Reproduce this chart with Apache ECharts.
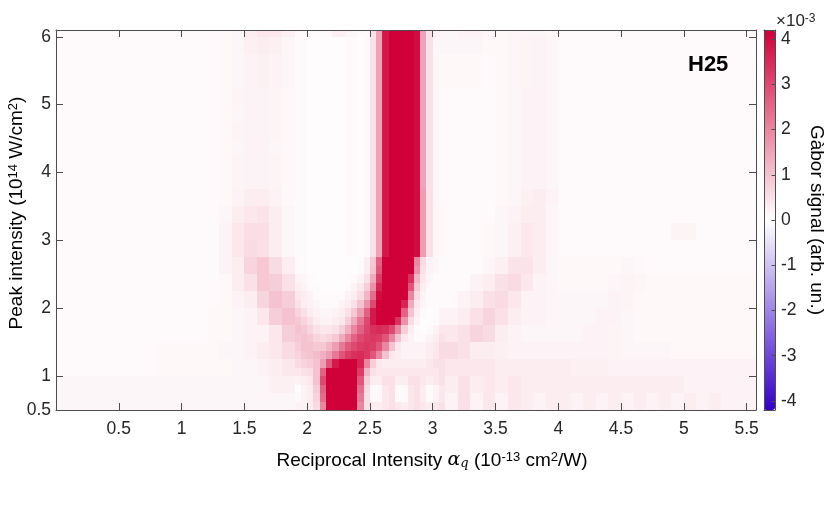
<!DOCTYPE html>
<html><head><meta charset="utf-8">
<script src="https://cdn.jsdelivr.net/npm/echarts@6/dist/echarts.min.js"></script>
<style>html,body{margin:0;padding:0;background:#fff}#c{width:834px;height:506px}</style>
</head><body><div id="c"></div>
<script>
// ---------- coarse map: bins 0.1 (x) by 0.25 (y) ----------
// Reciprocal intensity bin centres (10^-13 cm^2/W)
const xBins = [0.05,0.15,0.25,0.35,0.45,0.55,0.65,0.75,0.85,0.95,1.05,1.15,1.25,1.35,1.45,1.55,1.65,1.75,1.85,1.95,2.05,2.15,2.25,2.35,2.45,2.55,2.65,2.75,2.85,2.95,3.05,3.15,3.25,3.35,3.45,3.55,3.65,3.75,3.85,3.95,4.05,4.15,4.25,4.35,4.45,4.55,4.65,4.75,4.85,4.95,5.05,5.15,5.25,5.35,5.45,5.55];
// Peak intensity bin centres (10^14 W/cm^2)
const yBins = [0.625,0.875,1.125,1.375,1.625,1.875,2.125,2.375,2.625,2.875,3.125,3.375,3.625,3.875,4.125,4.375,4.625,4.875,5.125,5.375,5.625,5.875,6.125];
// Gabor signal (x10^-3), one row per yBin, one value per xBin
const signal = [
[0.15,0.15,0.15,0.15,0.15,0.15,0.15,0.15,0.15,0.15, 0.15,0.15,0.15,0.15,0.15,0.15,0.15,0.15,0.15,0.1, 0.9,3.6,5,5,1.4,0.2,0.5,0.1,0.5,0.2, 0.5,0.2,0.5,0.2,0.4,0.2,0.4,0.3,0.2,0.3, 0.3,0.2,0.3,0.2,0.3,0.2,0.3,0.2,0.3,0.2, 0.3,0.2,0.3,0.2,0.2,0.2],
[0.15,0.15,0.15,0.15,0.15,0.15,0.15,0.15,0.15,0.15, 0.15,0.15,0.15,0.15,0.15,0.15,0.15,0.25,0.25,0.25, 1.2,4,5,5,1.6,0.4,0.5,0.3,0.5,0.3, 0.5,0.3,0.5,0.3,0.4,0.3,0.4,0.3,0.3,0.3, 0.3,0.3,0.3,0.3,0.3,0.3,0.3,0.3,0.3,0.3, 0.2,0.2,0.2,0.2,0.2,0.2],
[0.1,0.1,0.1,0.1,0.1,0.1,0.1,0.1,0.12,0.12, 0.12,0.12,0.12,0.12,0.15,0.15,0.2,0.3,0.4,0.6, 1.4,3.8,4.6,4.2,2.2,0.8,0.4,0.4,0.4,0.4, 0.5,0.4,0.4,0.4,0.4,0.3,0.3,0.3,0.3,0.3, 0.3,0.25,0.25,0.25,0.2,0.2,0.2,0.2,0.2,0.2, 0.2,0.2,0.2,0.2,0.2,0.2],
[0.1,0.1,0.1,0.1,0.1,0.1,0.1,0.1,0.12,0.12, 0.12,0.12,0.12,0.15,0.15,0.2,0.3,0.4,0.6,0.9, 1.0,1.4,2.2,2.8,3.0,2.6,1.4,0.5,0.2,0.2, 0.4,0.6,0.5,0.3,0.3,0.25,0.2,0.2,0.2,0.2, 0.2,0.2,0.22,0.2,0.18,0.15,0.15,0.15,0.15,0.12, 0.12,0.12,0.12,0.12,0.12,0.12],
[0.1,0.1,0.1,0.1,0.1,0.1,0.1,0.1,0.1,0.1, 0.1,0.1,0.12,0.12,0.15,0.2,0.2,0.4,0.8,1.0, 0.8,0.5,0.9,1.8,2.6,3.0,2.8,1.2,0.3,0.05, 0.2,0.4,0.5,0.7,0.6,0.3,0.2,0.15,0.15,0.15, 0.15,0.15,0.2,0.22,0.18,0.15,0.12,0.12,0.12,0.12, 0.12,0.12,0.12,0.12,0.12,0.12],
[0.1,0.1,0.1,0.1,0.1,0.1,0.1,0.1,0.1,0.1, 0.1,0.1,0.12,0.12,0.15,0.2,0.4,0.8,1.0,0.8, 0.4,0.2,0.3,0.8,2.0,3.5,4.0,2.5,0.5,0.05, 0.1,0.2,0.3,0.5,0.7,0.5,0.3,0.2,0.22,0.15, 0.15,0.15,0.15,0.2,0.2,0.15,0.12,0.12,0.12,0.12, 0.12,0.12,0.12,0.12,0.12,0.12],
[0.1,0.1,0.1,0.1,0.1,0.1,0.1,0.1,0.1,0.1, 0.1,0.1,0.1,0.12,0.2,0.3,0.7,1.0,0.8,0.4, 0.2,0.1,0.1,0.2,1.0,3.0,4.5,4.0,1.0,0.2, 0.1,0.1,0.2,0.3,0.5,0.6,0.4,0.2,0.2,0.15, 0.15,0.15,0.15,0.15,0.2,0.18,0.12,0.12,0.12,0.12, 0.12,0.12,0.12,0.12,0.12,0.12],
[0.1,0.1,0.1,0.1,0.1,0.1,0.1,0.1,0.1,0.1, 0.1,0.1,0.1,0.12,0.3,0.5,0.9,0.8,0.5,0.2, 0.1,0.05,0.05,0.1,0.5,2.0,5,5,2.0,0.3, 0.1,0.1,0.1,0.2,0.3,0.5,0.6,0.4,0.2,0.15, 0.12,0.12,0.12,0.12,0.15,0.18,0.15,0.12,0.12,0.12, 0.12,0.12,0.12,0.12,0.12,0.12],
[0.1,0.1,0.1,0.1,0.1,0.1,0.1,0.1,0.1,0.1, 0.1,0.1,0.1,0.2,0.3,0.7,0.9,0.6,0.3,0.1, 0.05,0.05,0.05,0.1,0.2,1.2,5,5,3.8,0.7, 0.12,0.1,0.1,0.1,0.15,0.25,0.45,0.45,0.3,0.15, 0.12,0.12,0.12,0.12,0.12,0.15,0.12,0.1,0.1,0.1, 0.1,0.1,0.1,0.1,0.1,0.1],
[0.1,0.1,0.1,0.1,0.1,0.1,0.1,0.1,0.1,0.1, 0.1,0.1,0.1,0.2,0.4,0.6,0.5,0.3,0.15,0.1, 0.05,0.05,0.05,0.1,0.15,1.2,5,5,3.8,0.7, 0.12,0.1,0.1,0.1,0.12,0.15,0.25,0.4,0.3,0.15, 0.1,0.1,0.1,0.1,0.1,0.1,0.1,0.1,0.1,0.1, 0.1,0.1,0.1,0.1,0.1,0.1],
[0.1,0.1,0.1,0.1,0.1,0.1,0.1,0.1,0.1,0.1, 0.1,0.1,0.1,0.2,0.4,0.55,0.55,0.3,0.15,0.1, 0.05,0.05,0.05,0.1,0.15,1.2,5,5,3.8,0.7, 0.12,0.1,0.1,0.1,0.12,0.15,0.25,0.4,0.3,0.15, 0.1,0.1,0.1,0.1,0.1,0.1,0.1,0.1,0.1,0.18, 0.18,0.1,0.1,0.1,0.1,0.1],
[0.1,0.1,0.1,0.1,0.1,0.1,0.1,0.1,0.1,0.1, 0.1,0.1,0.1,0.15,0.3,0.4,0.45,0.3,0.15,0.1, 0.05,0.05,0.05,0.1,0.15,1.2,5,5,3.8,0.7, 0.12,0.1,0.1,0.1,0.1,0.15,0.2,0.3,0.3,0.15, 0.1,0.1,0.1,0.1,0.1,0.1,0.1,0.1,0.1,0.1, 0.1,0.1,0.1,0.1,0.1,0.1],
[0.1,0.1,0.1,0.1,0.1,0.1,0.1,0.1,0.1,0.1, 0.1,0.1,0.1,0.12,0.22,0.3,0.3,0.22,0.12,0.1, 0.05,0.05,0.05,0.1,0.15,1.2,5,5,3.8,0.7, 0.1,0.1,0.1,0.1,0.1,0.12,0.15,0.25,0.3,0.2, 0.1,0.1,0.1,0.1,0.1,0.1,0.1,0.1,0.1,0.1, 0.1,0.1,0.1,0.1,0.1,0.1],
[0.1,0.1,0.1,0.1,0.1,0.1,0.1,0.1,0.1,0.1, 0.1,0.1,0.1,0.12,0.18,0.22,0.22,0.18,0.12,0.1, 0.05,0.05,0.05,0.1,0.15,1.2,5,5,3.8,0.7, 0.1,0.1,0.1,0.1,0.1,0.12,0.15,0.22,0.22,0.15, 0.1,0.1,0.1,0.1,0.1,0.1,0.1,0.1,0.1,0.1, 0.1,0.1,0.1,0.1,0.1,0.1],
[0.1,0.1,0.1,0.1,0.1,0.1,0.1,0.1,0.1,0.1, 0.1,0.1,0.1,0.12,0.18,0.22,0.22,0.18,0.12,0.1, 0.05,0.05,0.05,0.1,0.15,1.2,5,5,3.8,0.7, 0.1,0.1,0.1,0.1,0.1,0.12,0.15,0.22,0.22,0.15, 0.1,0.1,0.1,0.1,0.1,0.1,0.1,0.1,0.1,0.1, 0.1,0.1,0.1,0.1,0.1,0.1],
[0.1,0.1,0.1,0.1,0.1,0.1,0.1,0.1,0.1,0.1, 0.1,0.1,0.1,0.12,0.15,0.22,0.2,0.15,0.12,0.1, 0.05,0.05,0.05,0.1,0.15,1.2,5,5,3.8,0.7, 0.1,0.1,0.1,0.1,0.1,0.12,0.15,0.22,0.22,0.15, 0.1,0.1,0.1,0.1,0.1,0.1,0.1,0.1,0.1,0.1, 0.1,0.1,0.1,0.1,0.1,0.1],
[0.1,0.1,0.1,0.1,0.1,0.1,0.1,0.1,0.1,0.1, 0.1,0.1,0.1,0.12,0.18,0.22,0.22,0.18,0.12,0.1, 0.05,0.05,0.05,0.1,0.15,1.2,5,5,3.8,0.7, 0.1,0.1,0.1,0.1,0.1,0.12,0.15,0.22,0.22,0.15, 0.1,0.1,0.1,0.1,0.1,0.1,0.1,0.1,0.1,0.1, 0.1,0.1,0.1,0.1,0.1,0.1],
[0.1,0.1,0.1,0.1,0.1,0.1,0.1,0.1,0.1,0.1, 0.1,0.1,0.1,0.12,0.15,0.2,0.22,0.18,0.12,0.1, 0.05,0.05,0.05,0.1,0.15,1.2,5,5,3.8,0.7, 0.1,0.1,0.1,0.1,0.1,0.12,0.15,0.22,0.22,0.15, 0.1,0.1,0.1,0.1,0.1,0.1,0.1,0.1,0.1,0.1, 0.1,0.1,0.1,0.1,0.1,0.1],
[0.1,0.1,0.1,0.1,0.1,0.1,0.1,0.1,0.1,0.1, 0.1,0.1,0.1,0.12,0.18,0.22,0.22,0.18,0.12,0.1, 0.05,0.05,0.05,0.1,0.15,1.2,5,5,3.8,0.7, 0.1,0.1,0.1,0.1,0.1,0.12,0.15,0.22,0.22,0.15, 0.1,0.1,0.1,0.1,0.1,0.1,0.1,0.1,0.1,0.1, 0.1,0.1,0.1,0.1,0.1,0.1],
[0.1,0.1,0.1,0.1,0.1,0.1,0.1,0.1,0.1,0.1, 0.1,0.1,0.1,0.12,0.15,0.22,0.25,0.22,0.15,0.1, 0.05,0.05,0.05,0.1,0.15,1.2,5,5,3.8,0.7, 0.12,0.12,0.12,0.12,0.1,0.12,0.15,0.18,0.22,0.15, 0.1,0.1,0.1,0.1,0.1,0.1,0.1,0.1,0.1,0.1, 0.1,0.1,0.1,0.1,0.1,0.1],
[0.1,0.1,0.1,0.1,0.1,0.1,0.1,0.1,0.1,0.1, 0.1,0.1,0.1,0.12,0.15,0.22,0.25,0.22,0.15,0.1, 0.05,0.05,0.05,0.1,0.15,1.2,5,5,3.8,0.7, 0.12,0.12,0.12,0.12,0.1,0.12,0.15,0.18,0.22,0.15, 0.1,0.1,0.1,0.1,0.1,0.1,0.1,0.1,0.1,0.1, 0.1,0.1,0.1,0.1,0.1,0.1],
[0.1,0.1,0.1,0.1,0.1,0.1,0.1,0.1,0.1,0.1, 0.1,0.1,0.1,0.12,0.15,0.25,0.3,0.25,0.15,0.1, 0.05,0.05,0.05,0.1,0.15,1.2,5,5,3.8,0.7, 0.15,0.15,0.15,0.15,0.12,0.12,0.15,0.18,0.22,0.15, 0.1,0.1,0.1,0.1,0.1,0.1,0.1,0.1,0.1,0.1, 0.1,0.1,0.1,0.1,0.1,0.1],
[0.1,0.1,0.1,0.1,0.1,0.1,0.1,0.1,0.1,0.1, 0.1,0.1,0.1,0.12,0.15,0.3,0.4,0.4,0.25,0.1, 0.1,0.1,0.25,0.15,0.1,1.2,5,5,3.8,0.7, 0.15,0.15,0.2,0.2,0.15,0.12,0.15,0.15,0.15,0.12, 0.1,0.1,0.1,0.1,0.1,0.1,0.1,0.1,0.1,0.1, 0.1,0.1,0.1,0.1,0.1,0.1]
];

// ---------- fine map of the lower "V": bins 0.05 (x) by 0.125 (y) ----------
const xFine = [1.925,1.975,2.025,2.075,2.125,2.175,2.225,2.275,2.325,2.375,2.425,2.475,2.525,2.575,2.625,2.675,2.725,2.775,2.825,2.875,2.925,2.975,3.025,3.075];
const yFine = [0.5625,0.6875,0.8125,0.9375,1.0625,1.1875,1.3125,1.4375,1.5625,1.6875,1.8125,1.9375,2.0625,2.1875,2.3125,2.4375,2.5625,2.6875];
const signalFine = [
[0.2,0.2,0.3,0.6,2.0,4.5,5,5,5,5,2.0,0.5,0.3,0.3,0.4,0.5,0.4,0.3,0.4,0.5,0.4,0.3,0.4,0.5],
[0.1,0.2,0.3,0.7,2.4,4.8,5,5,5,5,2.2,0.5,0.1,0.1,0.4,0.5,0.1,0.1,0.4,0.5,0.3,0.1,0.2,0.4],
[0.05,0.2,0.3,0.8,2.6,5,5,5,5,5,2.4,0.6,0.1,0.1,0.4,0.5,0.1,0.1,0.4,0.5,0.3,0.1,0.2,0.4],
[0.2,0.3,0.4,1.0,3.0,5,5,5,5,5,2.8,0.8,0.3,0.3,0.5,0.5,0.3,0.3,0.5,0.5,0.4,0.3,0.4,0.5],
[0.4,0.5,0.6,1.0,2.6,4.5,5,5,5,5,3.2,1.2,0.5,0.4,0.4,0.4,0.4,0.4,0.4,0.4,0.4,0.4,0.4,0.5],
[0.6,0.7,0.8,1.0,1.6,2.8,3.8,4.3,4.5,4.3,3.6,2.0,0.8,0.4,0.3,0.3,0.3,0.3,0.3,0.3,0.3,0.4,0.5,0.5],
[0.7,0.9,1.0,1.1,1.3,1.6,2.2,2.8,3.2,3.4,3.5,3.3,2.8,2.0,1.0,0.4,0.3,0.2,0.2,0.2,0.2,0.3,0.4,0.6],
[0.8,1.0,1.0,0.9,0.9,1.2,1.6,2.2,2.7,3.0,3.2,3.3,3.2,2.8,2.0,1.0,0.4,0.2,0.2,0.2,0.2,0.3,0.4,0.6],
[0.9,1.0,0.9,0.7,0.6,0.7,0.9,1.4,2.0,2.6,3.0,3.2,3.3,3.2,2.8,2.0,1.0,0.4,0.2,0.1,0.1,0.2,0.3,0.5],
[1.0,0.9,0.7,0.5,0.4,0.4,0.5,0.8,1.3,2.0,2.6,3.1,3.4,3.5,3.4,3.0,2.0,0.8,0.3,0.1,0.05,0.1,0.2,0.4],
[0.9,0.7,0.5,0.3,0.2,0.2,0.3,0.4,0.8,1.4,2.2,3.0,3.8,4.2,4.4,4.2,3.4,1.8,0.6,0.2,0.05,0.05,0.1,0.2],
[0.7,0.5,0.3,0.2,0.15,0.15,0.2,0.3,0.5,0.9,1.6,2.6,3.8,4.6,5,5,4.4,2.6,1.0,0.3,0.1,0.05,0.1,0.2],
[0.5,0.3,0.2,0.15,0.1,0.1,0.1,0.2,0.3,0.5,1.0,1.8,3.0,4.4,5,5,5,3.6,1.4,0.4,0.15,0.1,0.1,0.1],
[0.4,0.3,0.2,0.1,0.1,0.1,0.1,0.1,0.2,0.3,0.6,1.2,2.4,4.0,5,5,5,4.2,2.0,0.6,0.2,0.1,0.1,0.1],
[0.3,0.2,0.1,0.1,0.05,0.05,0.05,0.05,0.1,0.2,0.4,0.8,1.8,3.6,5,5,5,5,2.8,0.9,0.3,0.1,0.1,0.1],
[0.2,0.15,0.1,0.05,0.05,0.05,0.05,0.05,0.05,0.1,0.2,0.5,1.4,3.2,5,5,5,5,3.4,1.2,0.4,0.15,0.1,0.1],
[0.1,0.1,0.05,0.05,0.05,0.05,0.05,0.05,0.05,0.05,0.1,0.3,1.0,2.8,4.8,5,5,5,4.5,1.8,0.5,0.2,0.15,0.1],
[0.1,0.1,0.05,0.05,0.05,0.05,0.05,0.05,0.05,0.05,0.1,0.3,0.9,2.6,4.8,5,5,5,4.6,2.0,0.6,0.2,0.15,0.1]
];

// ---------- fine map of the upper band: bins 0.05 (x) by 0.25 (y) ----------
const xBand = [2.425,2.475,2.525,2.575,2.625,2.675,2.725,2.775,2.825,2.875,2.925,2.975,3.025,3.075];
const yBand = [2.875,3.125,3.375,3.625,3.875,4.125,4.375,4.625,4.875,5.125,5.375,5.625,5.875,6.125];
const signalBand = [
[0.05,0.1,0.5,1.5,3.8,5,5,5,5,4.0,1.6,0.5,0.15,0.12],
[0.05,0.1,0.5,1.5,3.8,5,5,5,5,4.0,1.6,0.5,0.15,0.12],
[0.05,0.1,0.5,1.5,3.8,5,5,5,5,4.0,1.6,0.5,0.15,0.12],
[0.05,0.1,0.5,1.5,3.8,5,5,5,5,4.0,1.6,0.5,0.15,0.1],
[0.05,0.1,0.5,1.5,3.8,5,5,5,5,4.0,1.5,0.5,0.15,0.1],
[0.05,0.1,0.5,1.5,3.8,5,5,5,5,4.0,1.5,0.5,0.15,0.1],
[0.05,0.1,0.5,1.5,3.8,5,5,5,5,4.0,1.5,0.5,0.15,0.1],
[0.05,0.1,0.5,1.5,3.8,5,5,5,5,4.0,1.5,0.5,0.15,0.1],
[0.05,0.1,0.5,1.5,3.8,5,5,5,5,4.0,1.5,0.5,0.15,0.1],
[0.05,0.1,0.5,1.5,3.8,5,5,5,5,4.0,1.5,0.5,0.15,0.1],
[0.05,0.1,0.5,1.5,3.8,5,5,5,5,4.0,1.5,0.5,0.15,0.12],
[0.05,0.1,0.5,1.5,3.8,5,5,5,5,4.0,1.5,0.5,0.15,0.12],
[0.05,0.1,0.5,1.5,3.8,5,5,5,5,4.0,1.5,0.5,0.15,0.15],
[0.1,0.1,0.5,1.5,3.8,5,5,5,5,4.0,1.5,0.5,0.2,0.15]
];

const xTicks = [0.5,1,1.5,2,2.5,3,3.5,4,4.5,5,5.5];
const yTicks = [0.5,1,2,3,4,5,6];
const yTicksRight = [1,2,3,4,5,6];
const cbTicks = [-4,-3,-2,-1,0,1,2,3,4];

function cells(xs, ys, rows) {
  const out = [];
  ys.forEach((y, j) => xs.forEach((x, i) => out.push([x, y, rows[j][i]])));
  return out;
}
function cellRenderer(hw, hh) {
  return function (params, api) {
    const x = api.value(0), y = api.value(1);
    const a = api.coord([x - hw, y - hh]);
    const b = api.coord([x + hw, y + hh]);
    const x0 = Math.round(a[0]), x1 = Math.round(b[0]);
    const y0 = Math.round(b[1]), y1 = Math.round(a[1]);
    return {type: 'rect', shape: {x: x0, y: y0, width: x1 - x0, height: y1 - y0},
            style: {fill: api.visual('color')}};
  };
}

const FONT = '"Liberation Sans", Arial, sans-serif';
const AX = '#4d4d4d';
const TXT = '#262626';
const chart = echarts.init(document.getElementById('c'), null, {renderer: 'canvas'});
const lineAx = {show: true, onZero: false, lineStyle: {color: AX, width: 1}};
const heatSeries = (d, hw, hh) => ({
  type: 'custom', xAxisIndex: 0, yAxisIndex: 0, data: d, clip: true,
  encode: {x: 0, y: 1}, renderItem: cellRenderer(hw, hh), silent: true
});
chart.setOption({
  animation: false,
  textStyle: {fontFamily: FONT},
  grid: [
    {left: 56, top: 30, width: 700, height: 380, containLabel: false, outerBoundsMode: 'none'},
    {left: 764, top: 30, width: 11, height: 380, containLabel: false, outerBoundsMode: 'none'}
  ],
  xAxis: [
    {gridIndex: 0, type: 'value', min: 0, max: 5.575, position: 'bottom', z: 10, axisLine: lineAx,
     axisTick: {inside: true, length: 7, customValues: xTicks, lineStyle: {color: AX}},
     axisLabel: {customValues: xTicks, fontSize: 17.5, color: TXT, fontFamily: FONT, margin: 10},
     splitLine: {show: false},
     name: '{n|Reciprocal Intensity }{it|α}{sub|q}{n| (10}{sup|-13}{n| cm}{sup|2}{n|/W)}',
     nameLocation: 'middle', nameGap: 41, nameMoveOverlap: false,
     nameTextStyle: {fontSize: 19, color: '#000', fontFamily: FONT, padding: [0, 0, 0, 52],
       rich: {n: {fontSize: 19, fontFamily: FONT, color: '#000'},
              it: {fontSize: 19, fontStyle: 'italic', fontFamily: 'DejaVu Serif', color: '#000'},
              sub: {fontSize: 13, fontStyle: 'italic', fontFamily: 'DejaVu Serif', color: '#000', verticalAlign: 'bottom'},
              sup: {fontSize: 13, fontFamily: FONT, color: '#000', verticalAlign: 'top'}}}},
    {gridIndex: 0, type: 'value', min: 0, max: 5.575, position: 'top', z: 10, axisLine: lineAx,
     axisTick: {inside: true, length: 7, customValues: xTicks, lineStyle: {color: AX}},
     axisLabel: {show: false}, splitLine: {show: false}},
    {gridIndex: 1, type: 'value', min: 0, max: 1, position: 'bottom', z: 10, axisLine: lineAx,
     axisTick: {show: false}, axisLabel: {show: false}, splitLine: {show: false}},
    {gridIndex: 1, type: 'value', min: 0, max: 1, position: 'top', z: 10, axisLine: lineAx,
     axisTick: {show: false}, axisLabel: {show: false}, splitLine: {show: false}}
  ],
  yAxis: [
    {gridIndex: 0, type: 'value', min: 0.5, max: 6.1, position: 'left', z: 10, axisLine: lineAx,
     axisTick: {inside: true, length: 7, customValues: yTicks, lineStyle: {color: AX}},
     axisLabel: {customValues: yTicks, fontSize: 17.5, color: TXT, fontFamily: FONT, margin: 5},
     splitLine: {show: false},
     name: '{n|Peak intensity (10}{sup|14}{n| W/cm}{sup|2}{n|)}',
     nameLocation: 'middle', nameGap: 30, nameMoveOverlap: false,
     nameTextStyle: {fontSize: 19, color: '#000', fontFamily: FONT, padding: [0, 0, 0, 14],
       rich: {n: {fontSize: 19, fontFamily: FONT, color: '#000'},
              sup: {fontSize: 13, fontFamily: FONT, color: '#000', verticalAlign: 'top'}}}},
    {gridIndex: 0, type: 'value', min: 0.5, max: 6.1, position: 'right', z: 10, axisLine: lineAx,
     axisTick: {inside: true, length: 7, customValues: yTicksRight, lineStyle: {color: AX}},
     axisLabel: {show: false}, splitLine: {show: false}},
    {gridIndex: 1, type: 'value', min: -4.2, max: 4.2, position: 'right', z: 10, axisLine: lineAx,
     axisTick: {inside: true, length: 3.5, customValues: cbTicks, lineStyle: {color: AX}},
     axisLabel: {customValues: cbTicks, fontSize: 17.5, color: TXT, fontFamily: FONT, margin: 6},
     splitLine: {show: false},
     name: 'Gàbor signal (arb. un.)', nameLocation: 'middle', nameGap: 32, nameRotate: -90,
     nameTextStyle: {fontSize: 19, color: '#000', fontFamily: FONT}},
    {gridIndex: 1, type: 'value', min: -4.2, max: 4.2, position: 'left', z: 10, axisLine: lineAx,
     axisTick: {show: false}, axisLabel: {show: false}, splitLine: {show: false}}
  ],
  visualMap: {
    type: 'continuous', min: -4.2, max: 4.2, dimension: 2, seriesIndex: [0, 1, 2],
    inRange: {color: ['#3300c8', '#ffffff', '#d00038']},
    left: 764, top: 30, itemWidth: 11, itemHeight: 380, padding: 0,
    calculable: false, hoverLink: false, show: true
  },
  series: [
    heatSeries(cells(xBins, yBins, signal), 0.05, 0.125),
    heatSeries(cells(xFine, yFine, signalFine), 0.025, 0.0625),
    heatSeries(cells(xBand, yBand, signalBand), 0.025, 0.125)
  ],
  graphic: [
    {type: 'text', left: 688, top: 54, z: 20,
     style: {text: 'H25', font: 'bold 22px "Liberation Sans", Arial, sans-serif', fill: '#000'}},
    {type: 'text', left: 776, top: 13, z: 20,
     style: {text: '{a|×10}{b|-3}',
             rich: {a: {fontSize: 17, fontFamily: FONT, fill: TXT, color: TXT},
                    b: {fontSize: 12, fontFamily: FONT, fill: TXT, color: TXT, verticalAlign: 'top'}}}}
  ]
});
</script></body></html>
